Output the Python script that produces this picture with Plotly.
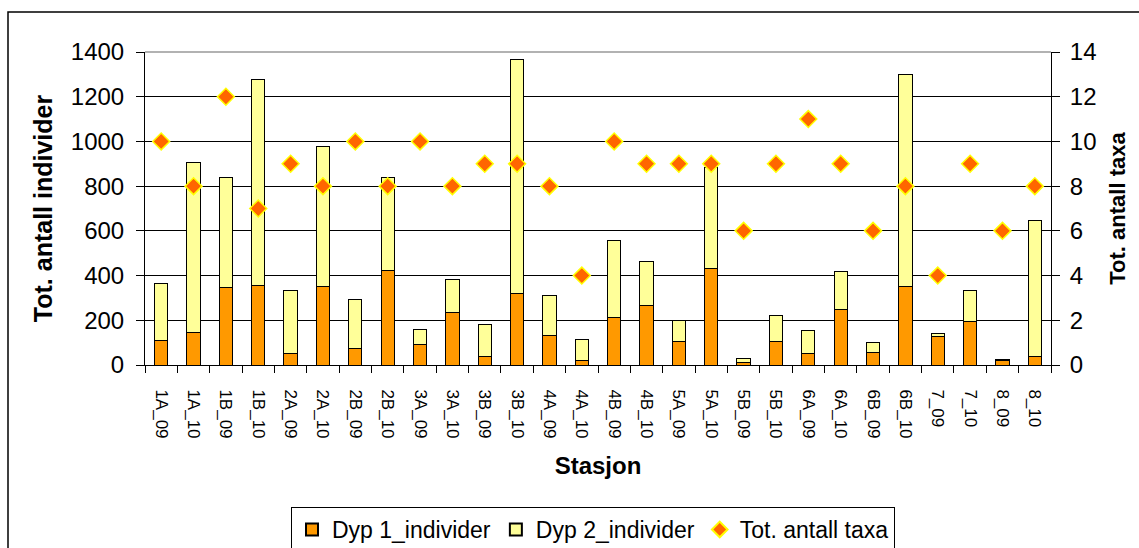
import plotly.graph_objects as go

stations = ["1A_09", "1A_10", "1B_09", "1B_10", "2A_09", "2A_10", "2B_09", "2B_10",
            "3A_09", "3A_10", "3B_09", "3B_10", "4A_09", "4A_10", "4B_09", "4B_10",
            "5A_09", "5A_10", "5B_09", "5B_10", "6A_09", "6A_10", "6B_09", "6B_10",
            "7_09", "7_10", "8_09", "8_10"]
dyp1 = [110, 147, 345, 357, 51, 350, 76, 424,
        91, 234, 37, 319, 130, 22, 213, 267,
        107, 430, 12, 103, 50, 247, 57, 352,
        128, 194, 18, 36]
dyp2 = [255, 761, 494, 919, 281, 626, 217, 415,
        70, 150, 143, 1048, 181, 93, 342, 196,
        94, 453, 18, 117, 105, 172, 44, 947,
        14, 138, 7, 610]
taxa = [10, 8, 12, 7, 9, 8, 10, 8,
        10, 8, 9, 9, 8, 4, 10, 9,
        9, 9, 6, 9, 11, 9, 6, 8,
        4, 9, 6, 8]

FONT = "Arial, Liberation Sans, sans-serif"

fig = go.Figure()
fig.add_trace(go.Bar(x=stations, y=dyp1, name="Dyp 1_individer",
                     marker=dict(color="#FF9900", line=dict(color="black", width=1))))
fig.add_trace(go.Bar(x=stations, y=dyp2, name="Dyp 2_individer",
                     marker=dict(color="#FFFF99", line=dict(color="black", width=1))))
fig.add_trace(go.Scatter(x=stations, y=taxa, name="Tot. antall taxa", yaxis="y2",
                         mode="markers",
                         marker=dict(symbol="diamond", size=13, color="#FF6600",
                                     line=dict(color="#FFFF00", width=1.5))))

W, H = 1139, 548
L, R, T, B = 145, 88, 52, 183
pw, ph = W - L - R, H - T - B

def px_x(px):
    return (px - L) / pw

def px_y(py):
    return (H - B - py) / ph

fig.update_layout(
    width=W, height=H,
    margin=dict(l=L, r=R, t=T, b=B, autoexpand=False),
    paper_bgcolor="white", plot_bgcolor="white",
    barmode="stack", bargap=0.59,
    font=dict(family=FONT, color="black"),
    showlegend=True,
    legend=dict(orientation="h", x=px_x(291), y=px_y(507), xanchor="left", yanchor="top",
                bordercolor="black", borderwidth=1, font=dict(size=23, family=FONT),
                traceorder="normal", itemsizing="constant"),
    xaxis=dict(range=[-0.5, len(stations) - 0.5], automargin=False,
               showline=True, linecolor="black", linewidth=1, ticks="outside",
               tickson="boundaries", ticklen=7, tickcolor="black", tickangle=90,
               ticklabelstandoff=20,
               tickfont=dict(size=17, family=FONT),
               title=dict(text="<b>Stasjon</b>", font=dict(size=24, family=FONT), standoff=19),
               showgrid=False),
    yaxis=dict(range=[0, 1400], dtick=200, automargin=False,
               showline=True, linecolor="black", linewidth=1,
               ticks="outside", ticklen=8, tickcolor="black", ticklabelstandoff=7,
               showgrid=True, gridcolor="black", gridwidth=1,
               tickfont=dict(size=24, family=FONT),
               title=dict(text="<b>Tot. antall individer</b>", font=dict(size=25, family=FONT),
                          standoff=11)),
    yaxis2=dict(range=[0, 14], dtick=2, overlaying="y", side="right", automargin=False,
                showline=True, ticklabelstandoff=5,
                linecolor="black", linewidth=1, ticks="outside", ticklen=8, tickcolor="black",
                showgrid=False, tickfont=dict(size=24, family=FONT),
                title=dict(text="<b>Tot. antall taxa</b>", font=dict(size=22, family=FONT),
                           standoff=14)),
    shapes=[
        dict(type="rect", xref="paper", yref="paper", x0=px_x(8), x1=px_x(1150),
             y0=px_y(560), y1=px_y(12), line=dict(color="black", width=1.5), layer="above"),
        dict(type="line", xref="paper", yref="paper", x0=0, x1=1, y0=1, y1=1,
             line=dict(color="#999999", width=1.5), layer="above"),
    ],
)

fig.write_html("out.html", config={"displayModeBar": False},
               post_script="document.body.style.margin='0';document.body.style.padding='0';")
